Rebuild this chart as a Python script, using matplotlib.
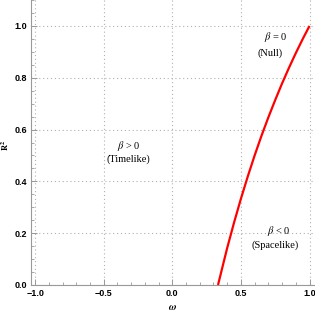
import matplotlib
matplotlib.use("Agg")
import matplotlib.pyplot as plt
from matplotlib.ticker import MultipleLocator, FuncFormatter

# curve values (omega, R^2)
omega = [0.333, 0.4, 0.45, 0.5, 0.55, 0.6, 0.65, 0.7, 0.75, 0.8, 0.85, 0.9, 0.95, 1.0]
r2 = [0.0, 0.143, 0.241, 0.333, 0.419, 0.5, 0.576, 0.647, 0.714, 0.778, 0.838, 0.895, 0.949, 1.0]

# region labels: (omega, R^2, text)
labels = [
    (0.757, 0.957, r"$\beta$ = 0"),
    (0.715, 0.895, "(Null)"),
    (-0.32, 0.537, r"$\beta$ > 0"),
    (-0.32, 0.487, "(Timelike)"),
    (0.774, 0.208, r"$\beta$ < 0"),
    (0.75, 0.154, "(Spacelike)"),
]

plt.rcParams["mathtext.fontset"] = "stix"
plt.rcParams["font.family"] = "Liberation Serif"

fig = plt.figure(figsize=(3.15, 3.11), dpi=100)
ax = fig.add_axes([31 / 315, 1 - 285 / 311, 284 / 315, 285 / 311])

ax.plot(omega, r2, color="#ff0000", linewidth=1.6, solid_capstyle="butt", clip_on=False, zorder=3)

ax.set_xlim(-1.03, 1.04)
ax.set_ylim(0, 1.1)
ax.xaxis.set_major_locator(MultipleLocator(0.5))
ax.xaxis.set_minor_locator(MultipleLocator(0.1))
ax.yaxis.set_major_locator(MultipleLocator(0.2))
ax.yaxis.set_minor_locator(MultipleLocator(0.05))

ax.grid(True, which="major", color="#b0b0b0", linestyle=(0, (1, 2.5)), linewidth=0.8)
ax.set_axisbelow(True)

for side in ["top", "right"]:
    ax.spines[side].set_visible(False)
for side in ["left", "bottom"]:
    ax.spines[side].set_color("#999999")
    ax.spines[side].set_linewidth(0.8)

ax.tick_params(which="both", direction="in", color="#999999", labelsize=6.5, pad=3)
ax.tick_params(which="major", length=4, width=0.7)
ax.tick_params(which="minor", length=2, width=0.6)
ax.xaxis.set_major_formatter(FuncFormatter(lambda v, p: f"{v:.1f}".replace("-", "\u2212")))
ax.yaxis.set_major_formatter(FuncFormatter(lambda v, p: f"{v:.1f}"))
for lab in ax.get_xticklabels() + ax.get_yticklabels():
    lab.set_fontfamily("Liberation Sans")
    lab.set_fontweight("bold")

ax.set_xlabel(r"$\boldsymbol{\omega}$", fontsize=7.5)
ax.xaxis.set_label_coords(0.5, -0.062)
ax.set_ylabel(r"$\mathbf{R^2}$", fontsize=6, family="Liberation Sans")
ax.yaxis.set_label_coords(-0.072, 0.49)

for x, y, t in labels:
    ax.text(x, y, t, ha="center", va="center", fontsize=7.5)

fig.savefig("out.png", dpi=100)
